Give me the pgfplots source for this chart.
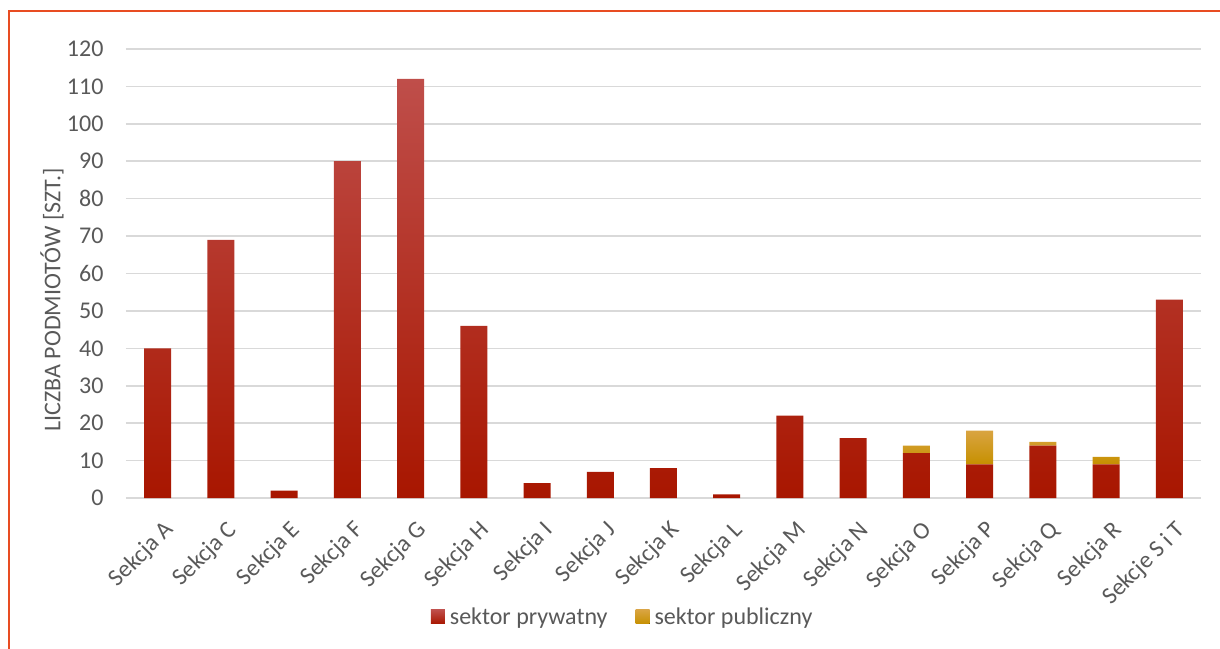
\documentclass[border=0pt]{standalone}
\usepackage{fontspec}
\setmainfont{Carlito}
\usepackage{pgfplots}
\pgfplotsset{compat=1.18}
\definecolor{txt}{HTML}{595959}
\definecolor{gridc}{HTML}{D9D9D9}
\definecolor{framec}{HTML}{E84C22}
\definecolor{rtop}{HTML}{BF4E4A}
\definecolor{rmid}{HTML}{BC2000}
\definecolor{rbot}{HTML}{A81600}
\definecolor{gtop}{HTML}{D9A441}
\definecolor{gmid}{HTML}{D6A000}
\definecolor{gbot}{HTML}{C69000}
\begin{document}
\begin{tikzpicture}[x=1pt,y=1pt]
\useasboundingbox (0,0) rectangle (1220,648);
\draw[framec, line width=2pt] (9,-5) -- (9,637) -- (1230,637);
\begin{axis}[
  at={(126pt,150pt)}, anchor=south west,
  scale only axis, width=1075pt, height=449pt,
  ybar stacked, bar width=27pt,
  xmin=-0.5, xmax=16.5, ymin=0, ymax=120,
  ytick={0,10,...,120},
  xtick={0,...,16},
  xticklabels={Sekcja A,Sekcja C,Sekcja E,Sekcja F,Sekcja G,Sekcja H,Sekcja I,Sekcja J,Sekcja K,Sekcja L,Sekcja M,Sekcja N,Sekcja O,Sekcja P,Sekcja Q,Sekcja R,Sekcje S i T},
  axis line style={draw=none},
  major tick length=0pt,
  xmajorgrids=false, ymajorgrids=true,
  y grid style={draw=gridc, line width=1.5pt},
  tick style={draw=none},
  tick label style={font=\fontsize{24}{28}\selectfont, text=txt},
  /pgf/number format/assume math mode=true,
  yticklabel style={anchor=east, xshift=-19pt},
  xticklabel style={rotate=45, anchor=north east, xshift=-8pt, yshift=-15pt},
  ylabel={LICZBA PODMIOTÓW [SZT.]},
  ylabel style={font=\fontsize{24}{28}\selectfont, text=txt, at={(axis description cs:-0.0688,0.441)}, anchor=center, rotate=0},
  legend style={draw=none, font=\fontsize{24}{28}\selectfont, text=txt, at={(axis description cs:0.462,-0.265)}, anchor=center, legend columns=2, /tikz/every even column/.append style={column sep=26pt}},
  legend image code/.code={\fill[#1] (0pt,-7pt) rectangle (14pt,7pt); \path (0pt,0pt) -- (17pt,0pt);},
]
\addplot[draw=none, shading=axis, top color=rtop, middle color=rmid, bottom color=rbot] coordinates {
(0,40) (1,69) (2,2) (3,90) (4,112) (5,46) (6,4) (7,7) (8,8) (9,1) (10,22) (11,16) (12,12) (13,9) (14,14) (15,9) (16,53)};
\addplot[draw=none, shading=axis, top color=gtop, middle color=gmid, bottom color=gbot] coordinates {
(0,0) (1,0) (2,0) (3,0) (4,0) (5,0) (6,0) (7,0) (8,0) (9,0) (10,0) (11,0) (12,2) (13,9) (14,1) (15,2) (16,0)};
\legend{sektor prywatny, sektor publiczny}
\end{axis}
\end{tikzpicture}
\end{document}
